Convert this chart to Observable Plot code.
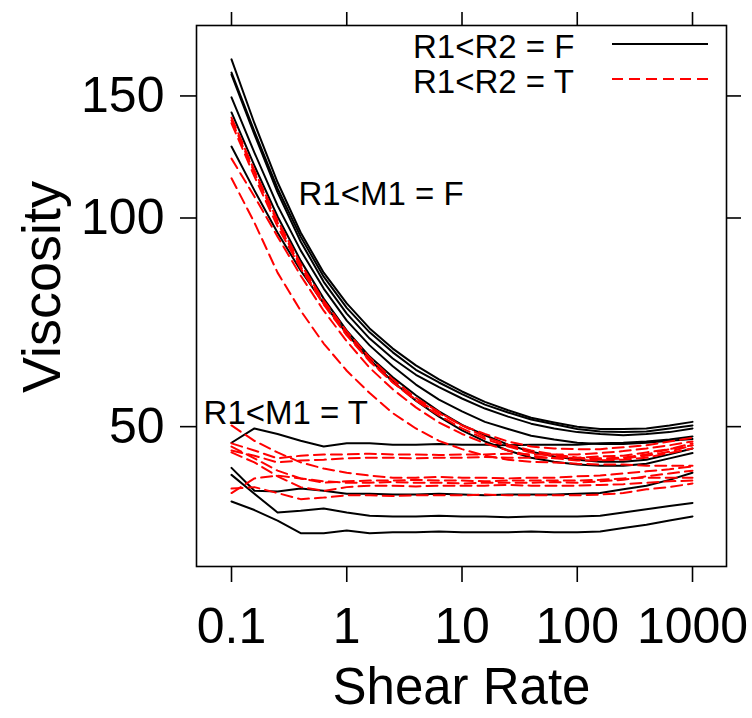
<!DOCTYPE html>
<html><head><meta charset="utf-8">
<script src="https://cdn.jsdelivr.net/npm/d3@7"></script>
<script src="https://cdn.jsdelivr.net/npm/@observablehq/plot@0.6"></script>
<style>body{margin:0;background:#fff} svg{display:block}</style>
</head><body><div id="chart"></div>
<script>
// Shear rate grid (x)
const shear = [0.1, 0.158, 0.251, 0.398, 0.631, 1, 1.58, 2.51, 3.98, 6.31, 10, 15.8, 25.1, 39.8, 63.1, 100, 158, 251, 398, 631, 1000];

// R1<M1 = F, R1<R2 = F (black, solid)
const hiF1 = [169.4,137.0,112.6,95.3,83.4,75.3,69.3,64.8,61.3,58.5,56.2,54.3,52.8,51.5,50.7,50.0,49.6,49.6,49.7,50.2,50.8];
const hiF2 = [162.1,133.3,110.3,94.0,82.3,74.2,68.4,64.0,60.4,57.9,55.7,53.8,52.4,51.2,50.4,49.6,49.2,49.1,49.2,49.7,50.2];
const hiF3 = [161.0,132.0,108.9,92.5,80.9,72.8,67.0,62.7,59.4,57.0,54.9,53.1,51.7,50.5,49.7,49.1,48.8,48.6,48.8,49.1,49.7];
const hiF4 = [149.3,124.3,104.2,89.8,79.1,71.1,65.5,61.1,57.5,54.7,52.6,50.8,49.6,48.5,47.9,47.4,47.2,47.2,47.4,47.7,48.0];
const hiF5 = [142.0,119.0,100.5,86.8,76.5,68.8,63.1,58.9,55.5,52.6,50.3,48.6,47.1,46.0,45.3,44.8,44.5,44.5,44.8,45.6,46.5];
const hiF6 = [126.8,109.6,95.2,84.0,75.3,68.1,62.5,58.1,54.5,51.7,49.4,47.6,46.2,45.1,44.5,44.1,43.9,43.9,44.2,45.0,45.8];
// R1<M1 = F, R1<R2 = T (red, dashed)
const hiT1 = [139.6,117.1,99.2,85.9,76.0,68.6,62.9,58.5,55.0,52.5,50.2,48.3,47.1,46.2,45.6,45.1,45.0,45.1,45.6,46.4,47.3];
const hiT2 = [138.3,116.3,98.5,85.1,75.3,67.9,62.3,57.9,54.5,51.9,49.7,48.0,46.8,45.9,45.3,45.0,44.8,45.0,45.4,46.0,47.0];
const hiT3 = [137.0,114.8,97.2,84.6,75.0,67.7,62.1,57.9,54.7,52.3,50.2,48.8,47.6,46.8,46.5,46.4,46.4,46.7,47.0,47.6,48.2];
const hiT4 = [121.8,107.4,94.0,82.6,73.5,66.4,60.8,56.6,53.3,50.7,48.8,47.3,46.2,45.4,45.0,44.7,44.7,44.8,45.1,45.8,46.5];
const hiT5 = [114.1,98.5,83.4,73.5,65.9,60.2,55.9,52.3,49.7,47.7,46.4,45.4,44.8,44.5,44.4,44.2,44.1,44.1,43.9,43.9,43.9];
// R1<M1 = T, R1<R2 = F (black, solid)
const loF1 = [47.4,49.7,48.8,47.7,46.8,47.3,47.3,47.1,47.1,47.2,47.1,47.1,47.0,47.1,47.1,47.1,47.3,47.4,47.6,47.9,48.4];
const loF2 = [43.6,40.4,40.3,40.7,40.4,40.0,40.0,39.9,39.9,40.0,39.9,39.8,39.9,39.9,39.9,40.0,40.1,40.6,41.1,41.9,42.9];
const loF3 = [42.6,40.0,37.6,37.8,38.1,37.6,37.2,37.1,37.1,37.2,37.1,37.1,37.0,37.1,37.1,37.1,37.2,37.6,38.0,38.4,38.8];
const loF4 = [39.0,37.9,36.6,35.1,35.1,35.4,35.1,35.2,35.2,35.3,35.2,35.2,35.2,35.3,35.2,35.2,35.3,35.7,36.1,36.6,37.1];
// R1<M1 = T, R1<R2 = T (red, dashed)
const loT1 = [50.2,47.7,45.9,44.4,43.5,42.9,42.5,42.2,42.2,42.3,42.2,42.2,42.1,42.2,42.2,42.4,42.5,42.8,43.1,43.4,43.8];
const loT2 = [47.3,46.2,45.0,45.4,45.6,45.6,45.7,45.6,45.6,45.5,45.6,45.6,45.7,45.6,45.6,45.6,45.8,46.1,46.5,47.0,47.6];
const loT3 = [46.8,45.0,43.2,42.1,41.5,41.7,41.8,41.8,41.9,41.8,41.8,41.7,41.8,41.8,41.8,41.8,41.9,42.1,42.2,42.2,42.2];
const loT4 = [45.9,44.4,42.4,40.9,40.4,40.9,41.1,41.1,41.0,41.1,41.1,41.1,41.2,41.1,41.1,41.1,41.2,41.3,41.5,41.7,41.8];
const loT5 = [40.1,42.1,42.5,42.1,41.7,41.5,41.5,41.6,41.5,41.5,41.4,41.5,41.5,41.5,41.6,41.5,41.7,41.9,42.4,42.8,43.2];
const loT6 = [40.7,40.9,40.1,39.3,39.5,39.8,39.8,39.7,39.8,39.8,39.8,39.9,39.8,39.8,39.8,39.8,39.9,40.1,40.6,40.9,41.4];
const loT7 = [46.2,45.4,44.4,44.7,44.8,45.0,45.1,45.1,45.0,45.1,45.1,45.2,45.1,45.1,45.1,45.1,45.3,45.4,45.9,46.4,47.0];

const xTicks = [0.1, 1, 10, 100, 1000];
const xTickLabels = ["0.1", "1", "10", "100", "1000"];
const yTicks = [50, 100, 150];
const yTickLabels = ["50", "100", "150"];
const legendLabels = ["R1<R2 = F", "R1<R2 = T"];
const panelLabels = ["R1<M1 = F", "R1<M1 = T"];

const solidSeries = [hiF1, hiF2, hiF3, hiF4, hiF5, hiF6, loF1, loF2, loF3, loF4];
const dashedSeries = [hiT1, hiT2, hiT3, hiT4, hiT5, loT1, loT2, loT3, loT4, loT5, loT6, loT7];
const toRows = (list) => list.flatMap((vals, i) => vals.map((v, j) => ({id: i, shear: shear[j], visc: v})));
const solidRows = toRows(solidSeries);
const dashedRows = toRows(dashedSeries);

const font = "'Liberation Sans', Arial, Helvetica, sans-serif";
const dash = "11,6";

const chart = Plot.plot({
  width: 752,
  height: 718,
  marginLeft: 196,
  marginRight: 26,
  marginTop: 25,
  marginBottom: 152,
  x: {type: "log", domain: [0.04969, 1972]},
  y: {type: "log", domain: [31.42, 189.55]},
  style: {fontFamily: font, background: "white", color: "black"},
  marks: [
    Plot.axisX({ticks: xTicks, tickFormat: d => xTickLabels[xTicks.indexOf(d)], tickSize: 16, tickPadding: 25, fontSize: 50, label: null, strokeWidth: 1.6}),
    Plot.axisX({anchor: "top", ticks: xTicks, tickFormat: () => "", tickSize: 14, label: null, strokeWidth: 1.6}),
    Plot.axisY({ticks: yTicks, tickFormat: d => yTickLabels[yTicks.indexOf(d)], tickSize: 16, tickPadding: 16, fontSize: 50, label: null, strokeWidth: 1.6}),
    Plot.axisY({anchor: "right", ticks: yTicks, tickFormat: () => "", tickSize: 14, label: null, strokeWidth: 1.6}),
    Plot.line(solidRows, {x: "shear", y: "visc", z: "id", stroke: "black", strokeWidth: 2}),
    Plot.line(dashedRows, {x: "shear", y: "visc", z: "id", stroke: "red", strokeWidth: 2, strokeDasharray: dash}),
    Plot.text([panelLabels[0]], {x: 0.3813, y: 108.1, textAnchor: "start", lineAnchor: "middle", fontSize: 33, fill: "black"}),
    Plot.text([panelLabels[1]], {x: 0.0572, y: 52.2, textAnchor: "start", lineAnchor: "middle", fontSize: 33, fill: "black"}),
    Plot.text(["Shear Rate"], {frameAnchor: "bottom", lineAnchor: "middle", textAnchor: "middle", dy: 121, fontSize: 51, fill: "black"}),
    Plot.text(["Viscosity"], {frameAnchor: "left", lineAnchor: "middle", textAnchor: "middle", dx: -154, dy: -9, rotate: -90, fontSize: 54, fill: "black"}),
    Plot.frame({stroke: "black", strokeWidth: 1.6})
  ]
});

// legend (key) inside the panel, top-right
const svg = d3.select(chart);
const key = svg.append("g").attr("font-family", font).attr("font-size", 33).attr("text-anchor", "start");
legendLabels.forEach((lab, i) => {
  const cy = 44 + i * 35;
  key.append("text").attr("x", 413).attr("y", cy + 14).attr("fill", "black").attr("text-anchor", "start").text(lab);
  key.append("line").attr("x1", 612).attr("x2", 708).attr("y1", cy).attr("y2", cy)
    .attr("stroke", i === 0 ? "black" : "red").attr("stroke-width", 2)
    .attr("stroke-dasharray", i === 0 ? null : dash);
});

document.getElementById("chart").appendChild(chart);
</script>
</body></html>
